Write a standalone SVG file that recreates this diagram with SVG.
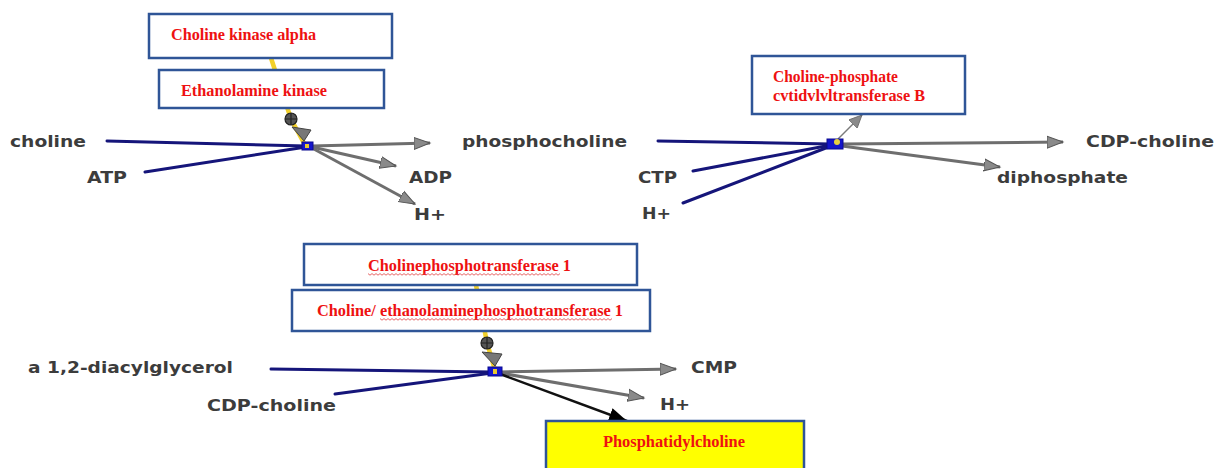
<svg xmlns="http://www.w3.org/2000/svg" width="1216" height="468" viewBox="0 0 1216 468">
<style>
.lbl{font-family:"DejaVu Sans",Verdana,sans-serif;font-weight:bold;font-size:15px;fill:#3c3c3c}
.enz{font-family:"Liberation Serif","Times New Roman",serif;font-weight:bold;font-size:16px;fill:#ee1111}
.box{fill:#ffffff;stroke:#2f5597;stroke-width:2.5}
.sub{stroke:#15157a;stroke-width:3;fill:none;stroke-linecap:round}
.prod{stroke:#6e6e6e;stroke-width:3;fill:none}
.mod{stroke:#f2d02a;stroke-width:4.5;fill:none}
.rx{fill:#1515cc;stroke:#0a0a90;stroke-width:1}
</style>
<defs>
<pattern id="wave" patternUnits="userSpaceOnUse" x="0" y="0" width="4" height="3">
<path d="M0,0.6 L2,2.2 L4,0.6" fill="none" stroke="#e04040" stroke-width="0.8"/>
</pattern>
<marker id="ga" markerUnits="userSpaceOnUse" markerWidth="18" markerHeight="14" refX="16" refY="7" orient="auto">
<path d="M0,1 L16,7 L0,13 z" fill="#8a8a8a" stroke="#555" stroke-width="1"/>
</marker>
<marker id="gs" markerUnits="userSpaceOnUse" markerWidth="14" markerHeight="12" refX="13" refY="6" orient="auto">
<path d="M0,0 L13,6 L0,12 z" fill="#8a8a8a" stroke="#666" stroke-width="0.8"/>
</marker>
<marker id="ba" markerUnits="userSpaceOnUse" markerWidth="20" markerHeight="16" refX="18" refY="8" orient="auto">
<path d="M0,1 L18,8 L0,15 z" fill="#000"/>
</marker>
</defs>

<g id="connectors">
<polyline class="mod" points="271,58 291,119 305,145"/>
<line class="sub" x1="107" y1="141" x2="306" y2="146"/>
<line class="sub" x1="145" y1="172" x2="306" y2="147"/>
<line class="prod" x1="312" y1="146" x2="430" y2="143" marker-end="url(#ga)"/>
<line class="prod" x1="312" y1="147" x2="396" y2="166" marker-end="url(#ga)"/>
<line class="prod" x1="312" y1="148" x2="415" y2="204" marker-end="url(#ga)"/>
<line class="sub" x1="658" y1="141" x2="831" y2="144"/>
<line class="sub" x1="693" y1="171" x2="831" y2="145"/>
<line class="sub" x1="683" y1="203" x2="831" y2="146"/>
<line x1="838" y1="139" x2="862" y2="115" stroke="#7a7a7a" stroke-width="1.5" marker-end="url(#gs)"/>
<line class="prod" x1="842" y1="144" x2="1063" y2="142" marker-end="url(#ga)"/>
<line class="prod" x1="842" y1="146" x2="1000" y2="167" marker-end="url(#ga)"/>
<polyline class="mod" points="476,285 487,343 495,370"/>
<line class="sub" x1="271" y1="369" x2="492" y2="372"/>
<line class="sub" x1="335" y1="394" x2="492" y2="373"/>
<line class="prod" x1="500" y1="372" x2="676" y2="369" marker-end="url(#ga)"/>
<line class="prod" x1="500" y1="373" x2="644" y2="398" marker-end="url(#ga)"/>
<line x1="500" y1="374" x2="627" y2="421" stroke="#111" stroke-width="2.5" marker-end="url(#ba)"/>
</g>

<g id="reaction1">
<circle cx="291" cy="119" r="6" fill="#555" stroke="#222" stroke-width="1.2"/>
<path d="M285,119 H297 M291,113 V125" stroke="#222" stroke-width="1.2"/>
<polygon points="292,127 311,130 304,141" fill="#777" stroke="#444" stroke-width="1"/>
<rect class="rx" x="302" y="142" width="11" height="8"/>
<rect x="305" y="144" width="4" height="4" fill="#e8c830"/>
</g>
<g id="reaction2">
<rect class="rx" x="827" y="139" width="16" height="10"/>
<circle cx="837" cy="142" r="3" fill="#e8d040"/>
</g>
<g id="reaction3">
<circle cx="487" cy="343" r="6" fill="#555" stroke="#222" stroke-width="1.2"/>
<path d="M481,343 H493 M487,337 V349" stroke="#222" stroke-width="1.2"/>
<polygon points="482,352 502,354 495,366" fill="#777" stroke="#444" stroke-width="1"/>
<rect class="rx" x="488" y="367" width="14" height="9"/>
<rect x="493" y="369" width="4" height="5" fill="#e8c830"/>
</g>

<g id="enzyme-choline-kinase-alpha">
<rect class="box" x="149" y="14" width="243" height="44"/>
<text class="enz" x="171" y="40" textLength="145" lengthAdjust="spacingAndGlyphs">Choline kinase alpha</text>
</g>
<g id="enzyme-ethanolamine-kinase">
<rect class="box" x="159" y="70" width="225" height="38"/>
<text class="enz" x="181" y="96" textLength="146" lengthAdjust="spacingAndGlyphs">Ethanolamine kinase</text>
</g>
<g id="enzyme-cct">
<rect class="box" x="752" y="56" width="213" height="58"/>
<text class="enz" x="773" y="82" textLength="125" lengthAdjust="spacingAndGlyphs">Choline-phosphate</text>
<text class="enz" x="773" y="101" textLength="152" lengthAdjust="spacingAndGlyphs">cvtidvlvltransferase B</text>
</g>
<g id="enzyme-cholinephosphotransferase">
<rect class="box" x="304" y="244" width="333" height="41"/>
<text class="enz" x="368" y="271" textLength="203" lengthAdjust="spacingAndGlyphs">Cholinephosphotransferase 1</text>
<rect x="368" y="273" width="192" height="3" fill="url(#wave)"/>
</g>
<g id="enzyme-cept1">
<rect class="box" x="292" y="290" width="358" height="41"/>
<text class="enz" x="317" y="316" textLength="306" lengthAdjust="spacingAndGlyphs">Choline/ ethanolaminephosphotransferase 1</text>
<rect x="380" y="318" width="232" height="3" fill="url(#wave)"/>
</g>
<g id="product-phosphatidylcholine">
<rect x="546" y="421" width="258" height="52" fill="#ffff00" stroke="#2f5597" stroke-width="2.5"/>
<text class="enz" x="603" y="447" textLength="142" lengthAdjust="spacingAndGlyphs">Phosphatidylcholine</text>
</g>

<g id="choline"><text class="lbl" x="10" y="147" textLength="76" lengthAdjust="spacingAndGlyphs">choline</text></g>
<g id="atp"><text class="lbl" x="87" y="183" textLength="40" lengthAdjust="spacingAndGlyphs">ATP</text></g>
<g id="adp"><text class="lbl" x="409" y="183" textLength="43" lengthAdjust="spacingAndGlyphs">ADP</text></g>
<g id="hplus1"><text class="lbl" x="414" y="220" textLength="32" lengthAdjust="spacingAndGlyphs">H+</text></g>
<g id="phosphocholine"><text class="lbl" x="462" y="147" textLength="165" lengthAdjust="spacingAndGlyphs">phosphocholine</text></g>
<g id="ctp"><text class="lbl" x="638" y="183" textLength="39" lengthAdjust="spacingAndGlyphs">CTP</text></g>
<g id="hplus2"><text class="lbl" x="642" y="219" textLength="29" lengthAdjust="spacingAndGlyphs">H+</text></g>
<g id="cdp-choline1"><text class="lbl" x="1086" y="147" textLength="128" lengthAdjust="spacingAndGlyphs">CDP-choline</text></g>
<g id="diphosphate"><text class="lbl" x="997" y="183" textLength="131" lengthAdjust="spacingAndGlyphs">diphosphate</text></g>
<g id="diacylglycerol"><text class="lbl" x="28" y="373" textLength="205" lengthAdjust="spacingAndGlyphs">a 1,2-diacylglycerol</text></g>
<g id="cdp-choline2"><text class="lbl" x="207" y="411" textLength="129" lengthAdjust="spacingAndGlyphs">CDP-choline</text></g>
<g id="cmp"><text class="lbl" x="691" y="373" textLength="46" lengthAdjust="spacingAndGlyphs">CMP</text></g>
<g id="hplus3"><text class="lbl" x="660" y="410" textLength="30" lengthAdjust="spacingAndGlyphs">H+</text></g>
</svg>
